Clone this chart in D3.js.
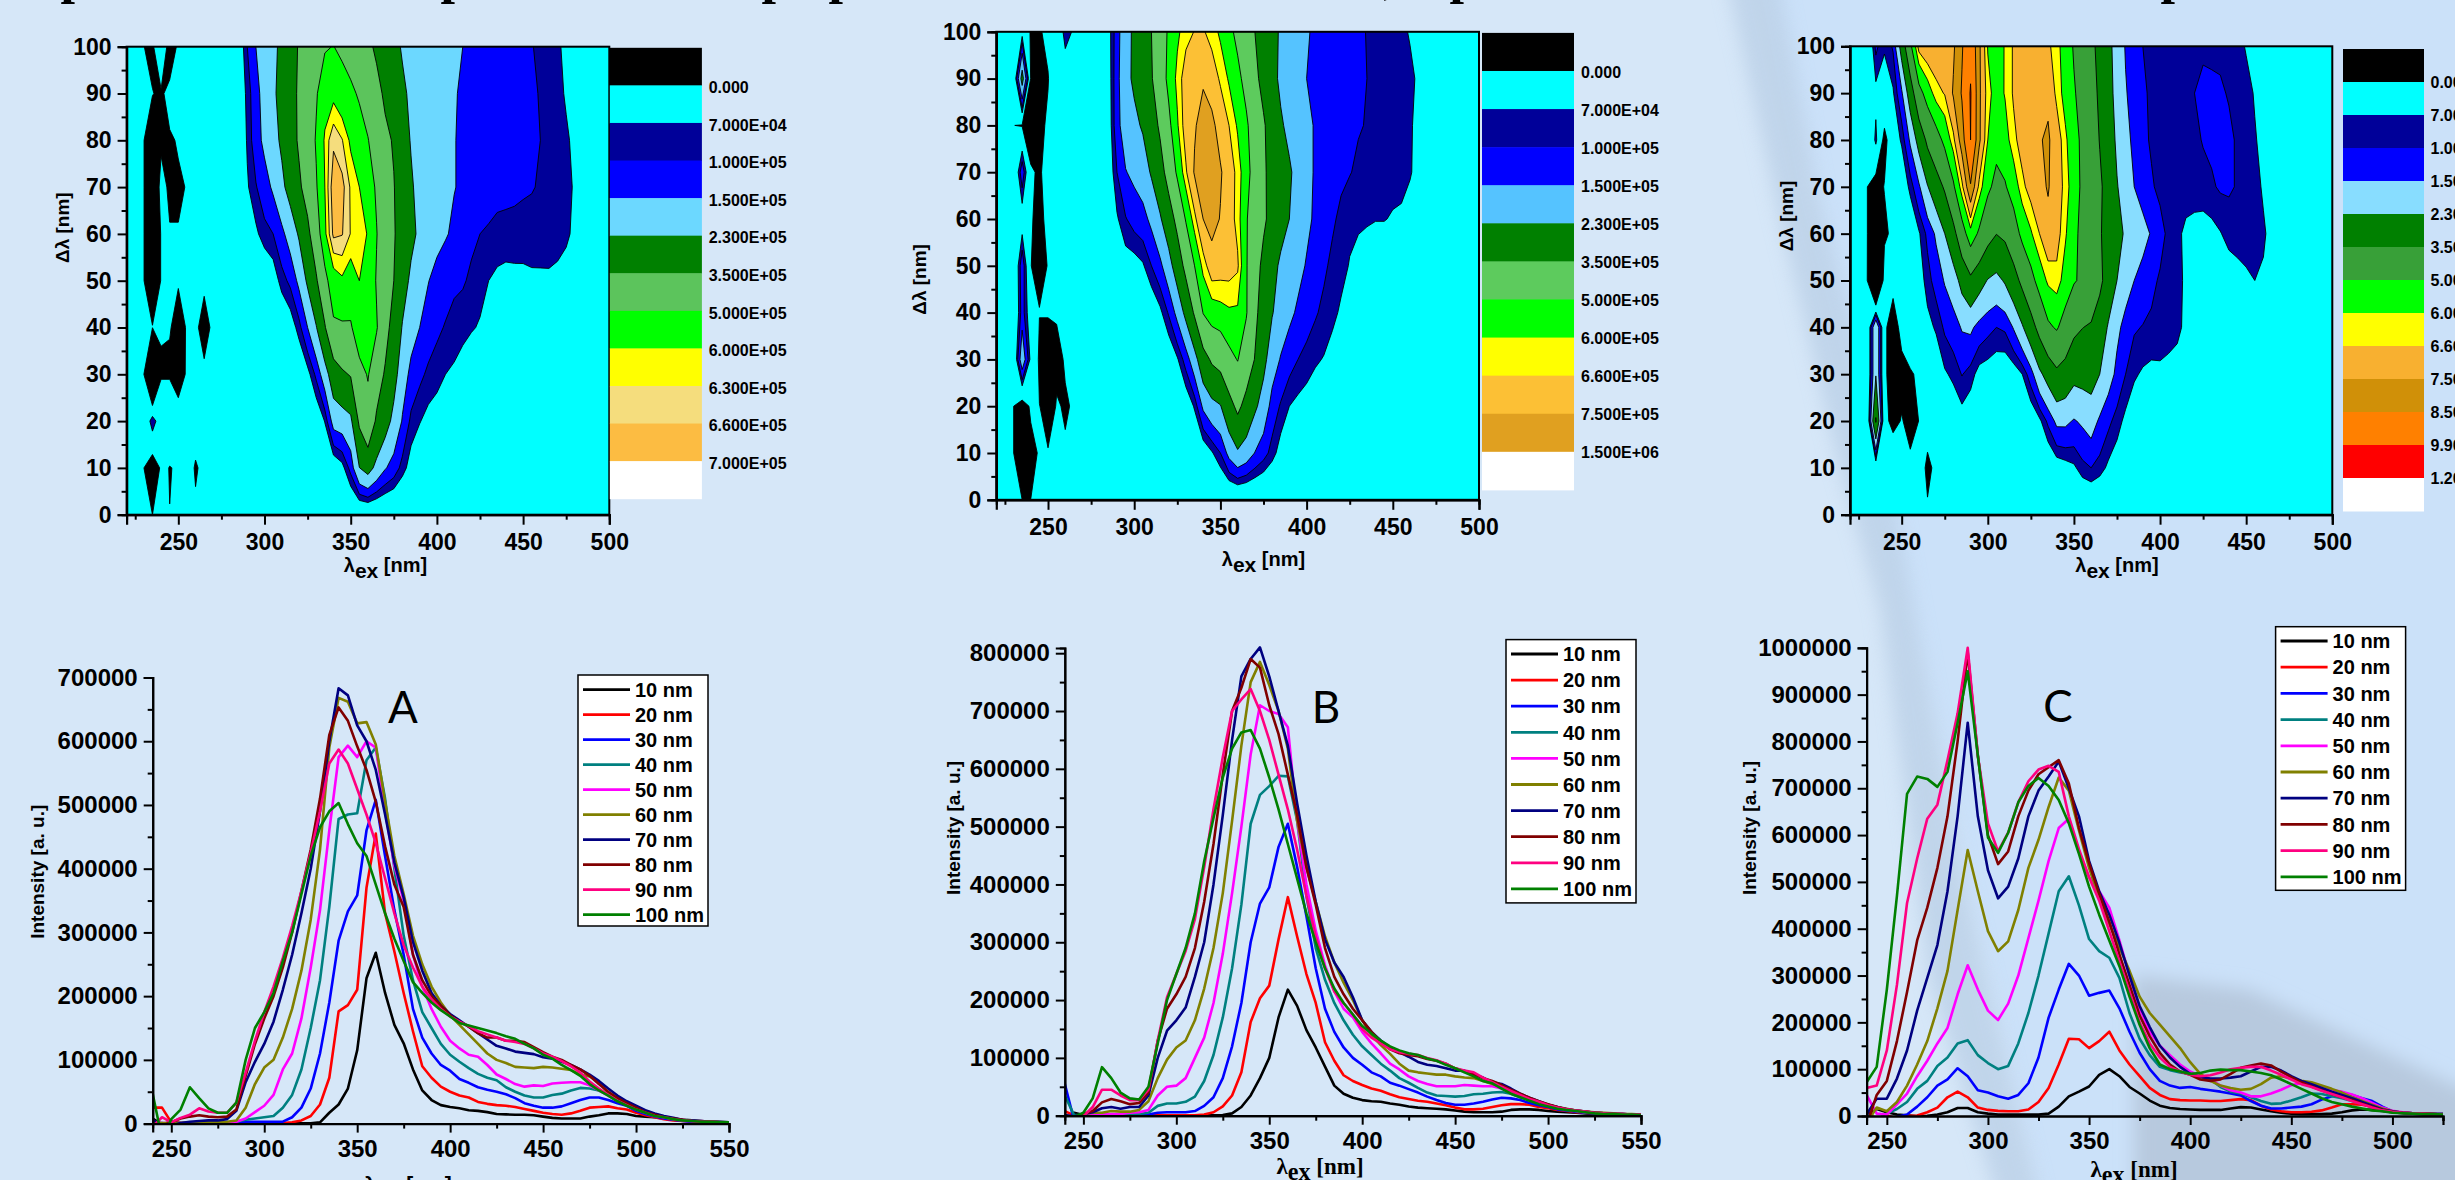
<!DOCTYPE html>
<html><head><meta charset="utf-8">
<script src="https://cdn.jsdelivr.net/npm/d3@7"></script>
<style>
html,body{margin:0;padding:0;background:#d6e7f8;overflow:hidden}
svg{display:block}
text{font-family:"Liberation Sans",Arial,sans-serif;font-weight:bold;fill:#000}
</style></head><body>
<svg id="c" width="2455" height="1180"></svg>
<script>
// ---------- shared ----------
const wavelengths = d3.range(240, 555, 5);
const extraColumns = [220, 225, 230, 235];
const offsets = [10, 20, 30, 40, 50, 60, 70, 80, 90, 100];
const seriesNames = ["10 nm","20 nm","30 nm","40 nm","50 nm","60 nm","70 nm","80 nm","90 nm","100 nm"];
const seriesColors = ["#000000","#ff0000","#0000ff","#008080","#ff00ff","#808000","#000080","#800000","#ff0080","#008000"];

// ---------- sample A (thousands) ----------
const A10=[8,-1,3,1,-.2,.5,.3,.3,.3,.3,.3,.3,.3,.3,.3,.3,.3,.5,2,17,30,55,115,228,268,205,155,126,85,52,37,29,26,24,21,20,18,15,14.5,14,14,13,11,9,8,8,8,11,13,16,16,15,12,11,10,8,6,5,4,3,3,2,2];
const A20=[25,25,2,1,1,1,.5,.5,.5,.5,.5,.5,.5,.5,1,2,5,12,30,72,176,186,210,370,455,330,270,205,145,90,72,58,50,44,41,34,31,29,28,26,23,20,17,15,14,16,20,25,26,27,24,22,17,13,10,7,5,4,3,2,2,1,1];
const A30=[-3,-3,-2,.5,1,1,1,1,1,2,3,3,3,3,3,10,25,55,110,190,287,333,358,460,508,420,335,265,180,135,110,92,83,70,64,57,53,50,46,40,32,28,25,25,27,32,37,41,41,37,32,28,20,15,11,8,6,4,3,2,2,1,1];
const A40=[2,1,-5,1,1,-2,1,1,1,3,6,8,10,12,25,45,85,150,225,340,478,485,487,570,590,510,400,295,225,175,150,125,108,97,87,78,72,68,57,50,44,41,41,45,47,52,56,55,52,46,38,30,22,17,13,10,7,5,4,3,2,2,2];
const A50=[1,1,1,1,1,1,1,1,1,3,8,18,28,45,85,110,165,245,335,460,575,593,575,600,590,490,405,350,265,215,180,152,130,118,108,105,92,77,70,62,58,60,59,63,64,65,65,60,52,44,36,30,24,18,14,10,8,6,4,4,3,2,2];
const A60=[1,1,1,1,2,2,2,2,3,5,25,62,88,100,135,180,240,320,430,590,668,662,628,630,595,505,420,360,295,250,215,190,170,155,140,125,110,100,95,89,88,87,89,88,86,84,77,74,65,48,40,33,26,20,15,11,8,6,5,4,3,3,2];
const A70=[6,-3,-3,1,3,4,5,5,7,20,65,97,125,160,210,265,330,400,490,600,683,672,625,600,555,485,410,355,285,240,205,185,172,162,152,142,132,122,118,113,111,109,104,102,97,92,85,77,67,55,44,35,28,21,16,12,9,6,5,4,3,3,2];
const A80=[-3,-3,2,8,11,13,11,10,11,22,75,125,165,200,245,300,365,430,510,610,653,632,592,555,505,435,375,340,265,225,200,185,170,160,152,142,135,135,130,130,128,120,112,105,100,92,85,75,62,50,40,32,25,18,14,10,8,6,4,3,3,2,2];
const A90=[-5,10,2,9,14,24,19,17,17,33,80,130,175,215,260,310,365,425,490,565,587,565,525,485,440,385,330,280,245,215,195,180,168,160,153,145,140,135,130,128,125,118,110,105,98,90,80,66,55,45,36,29,22,17,12,10,7,5,4,3,3,2,2];
const A100=[47,-24,7,22,57,40,24,17,17,33,100,150,175,205,255,300,360,420,465,490,503,470,440,420,375,330,290,255,222,205,190,178,168,158,154,150,146,142,137,133,125,118,108,102,92,84,75,62,52,44,35,28,22,17,12,10,7,5,4,3,3,2,2];
const A220=[0,1,1,1,1,1,1,1,1,1,1];
const A225=[0,1,1,1,1,1,1,1,1,1,1];
const A230=[0,.5,.5,.5,.5,.5,.5,.5,.5,.5,.5];
const A235=[0,-40,100,-200,1,-20,-20,-20,-20,1,-8];
const levelsA=[0,70,100,150,230,350,500,600,630,660,700];
const levelLabelsA=["0.000","7.000E+04","1.000E+05","1.500E+05","2.300E+05","3.500E+05","5.000E+05","6.000E+05","6.300E+05","6.600E+05","7.000E+05"];
const swatchesA=["#000000","#00ffff","#000099","#0000ff","#6cd8ff","#008000","#5cc45c","#00ff00","#ffff00","#f5dd7d","#fcbc42","#ffffff"];

// ---------- sample B (thousands) ----------
const B10=[-15,5,1,1,1,1,.3,.3,.3,.3,.3,.3,.3,.3,.3,.5,.5,1,4,15,35,65,100,170,218,190,148,118,85,52,38,31,27,25,24,21,19,16,14,13,12,11,9,7,6,6,6,7,10,11,11,10,8,7,6,5,4,3,3,3,2,2,2];
const B20=[8,.5,-8,1,-1,1,.5,.5,.5,.5,.5,.5,.5,.5,.5,2,6,16,35,75,162,203,225,305,378,310,245,195,127,95,70,60,53,47,43,37,32,29,26,24,21,18,14,11,11,12,15,18,20,20,19,15,13,10,8,6,5,4,3,3,2,2,1];
const B30=[55,-8,-8,-3,1,1,1,1,1,2,5,6,6,6,8,17,32,65,120,195,300,367,395,465,505,430,345,255,185,145,118,100,88,75,68,57,52,46,40,33,27,22,19,19,21,24,28,31,30,27,22,18,15,11,9,7,5,4,3,3,2,2,1];
const B40=[35,1,1,1,1,1,1,2,3,5,17,21,21,24,33,60,105,170,255,365,505,555,570,588,587,510,380,290,235,195,165,140,120,105,90,78,65,57,48,40,35,34,33,34,37,38,40,41,38,32,27,22,17,13,10,8,6,5,3,3,3,2,2];
const B50=[.5,-8,1,1,2,3,3,5,6,10,35,50,52,65,100,135,195,280,385,500,625,710,700,695,672,510,400,320,260,215,185,170,145,125,108,90,80,68,60,55,51,51,51,53,52,51,51,47,40,35,28,23,18,14,11,8,6,5,4,3,3,2,2];
const B60=[1,-3,3,5,5,8,7,7,10,25,65,97,118,130,165,220,290,385,510,640,750,785,745,700,635,510,430,370,310,265,230,200,165,140,122,107,90,78,75,73,71,71,68,66,65,60,55,50,43,36,30,24,19,15,12,9,7,6,5,4,3,3,2];
const B70=[1,-1,3,6,13,15,12,15,15,35,100,147,165,187,240,300,400,520,650,760,790,810,760,700,640,540,450,370,305,265,240,205,165,145,130,118,110,102,93,88,86,82,78,78,71,66,58,55,47,38,31,25,19,15,11,9,7,5,4,3,3,2,2];
const B80=[-5,-5,3,8,23,29,25,20,22,40,130,185,210,240,290,370,470,590,700,740,790,775,710,660,590,520,430,365,290,240,210,185,165,145,128,115,108,105,103,98,95,90,82,77,72,65,60,53,45,38,31,25,20,15,11,9,7,5,4,3,3,2,2];
const B90=[-5,-1,-1,15,45,45,35,27,27,45,130,205,245,285,340,430,530,620,700,720,738,700,650,590,530,460,380,310,255,215,195,175,150,135,125,115,110,107,105,100,96,90,82,78,75,66,58,50,43,36,29,24,18,14,11,9,7,5,4,3,3,2,2];
const B100=[-5,-2,5,30,84,65,40,30,28,50,125,200,245,290,350,440,515,585,635,663,667,635,585,530,470,410,350,300,255,220,195,175,155,142,130,120,113,108,105,99,95,88,82,75,68,60,56,47,38,32,26,20,16,12,10,8,6,4,3,3,2,2,1];
const B220=[0,1,1,1,1,1,1,1,1,1,1];
const B225=[0,1,1,1,1,1,1,1,1,1,1];
const B230=[0,.5,.5,.5,.5,.5,.5,.5,.5,.5,.5];
const B235=[0,-30,-30,200,120,130,40,130,-3,270,48];
const levelsB=[0,70,100,150,230,350,500,600,660,750,1500];
const levelLabelsB=["0.000","7.000E+04","1.000E+05","1.500E+05","2.300E+05","3.500E+05","5.000E+05","6.000E+05","6.600E+05","7.500E+05","1.500E+06"];
const swatchesB=["#000000","#00ffff","#000099","#0000ff","#55c3ff","#008000","#5dcb5d","#00ff00","#ffff00","#fcc035","#e0a020","#ffffff"];

// ---------- sample C (thousands), 240-525 nm ----------
const wavelengthsC = d3.range(240, 530, 5);
const C10=[1,15,8,3.3,1.3,-.5,.5,3,8,17,17,8,5,3,3,3,3,3,5,20,42,52,63,88,100,85,62,48,33,22,17,15,14,13,13,13,16,19,18,14,10,7,5,4,4,4,5,8,12,14,13,11,8,6,5,4,4,3];
const C20=[5,-5,1,-5,.2,1,8,18,40,52,40,18,13,11,10,10,14,30,60,110,165,164,145,160,180,140,110,85,60,45,36,34,33,33,32,32,34,36,34,22,14,10,8,8,9,12,18,25,25,24,20,14,9,7,6,5,4,3];
const C30=[3,-8,-5,-2,3,20,40,65,78,102,85,55,50,42,37,45,70,125,210,270,325,300,257,263,268,230,180,135,100,75,65,60,62,58,55,52,48,44,32,22,16,16,18,20,25,35,42,46,45,38,32,20,10,7,6,5,4,4];
const C40=[3,-8,5,15,30,58,75,107,125,155,162,130,113,100,107,155,220,300,390,480,512,450,378,352,338,295,220,165,130,105,98,93,90,85,78,62,52,48,40,32,26,27,33,40,48,47,42,38,32,26,22,14,10,7,6,5,4,4];
const C50=[45,5,3,25,48,85,118,155,188,260,322,270,225,205,240,300,380,460,545,615,635,565,510,480,445,375,300,230,180,150,130,110,95,85,78,65,55,50,42,42,48,56,66,70,68,60,55,52,46,38,28,18,11,8,6,5,4,4];
const C60=[-15,18,10,30,65,110,160,230,310,440,568,480,395,352,373,440,530,590,660,723,695,610,530,465,410,360,310,255,220,195,170,145,115,90,75,65,60,56,58,68,82,85,80,75,72,65,58,50,40,32,24,16,10,7,6,5,4,4];
const C70=[3,37,37,80,140,225,295,365,480,640,840,640,525,465,490,550,640,695,725,757,700,640,545,480,430,370,300,235,190,150,125,105,90,83,80,80,82,85,95,105,105,97,85,75,68,60,52,45,38,30,22,14,10,7,6,5,4,4];
const C80=[-20,45,75,160,265,375,445,530,640,800,990,770,600,538,565,640,695,730,745,760,710,615,540,475,415,345,280,215,170,135,110,95,88,78,75,78,90,103,108,112,108,95,83,72,63,55,47,40,34,26,19,13,9,7,6,5,4,3];
const C90=[60,65,140,280,455,550,635,665,760,860,1000,770,625,565,605,670,715,740,748,735,640,570,510,460,395,330,265,200,155,125,105,95,88,85,87,93,100,103,105,105,97,88,78,68,62,54,47,40,32,25,18,12,9,7,6,5,4,3];
const C100=[72,105,270,470,688,725,720,703,735,840,950,770,595,562,605,670,705,722,705,675,625,560,490,430,375,320,255,195,145,110,100,95,90,92,97,99,98,98,95,92,87,78,68,58,48,38,30,25,20,16,12,10,7,6,5,4,4,3];
const C220=[0,1,1,1,1,1,1,1,1,1,1];
const C225=[0,1,1,1,1,1,1,1,1,1,1];
const C230=[0,.5,.5,.5,.5,.5,.5,.5,.5,.5,.5];
const C235=[0,20,360,225,225,-250,-30,-30,80,57,110];
const levelsC=[0,70,100,150,230,350,500,600,660,750,850,990,1200];
const levelLabelsC=["0.000","7.000E+04","1.000E+05","1.500E+05","2.300E+05","3.500E+05","5.000E+05","6.000E+05","6.600E+05","7.500E+05","8.500E+05","9.900E+05","1.200E+06"];
const swatchesC=["#000000","#00ffff","#000099","#0000ff","#88ddff","#008000","#38a038","#00ff00","#ffff00","#f8b030","#d09008","#ff8000","#ff0000","#ffffff"];

const titleFragments=[["p",75],["p",455],["p",776],["p",843],[",",1390],["p",1464],["p",2175]];

// ---------- layout ----------
const panels=[
 {series:[A10,A20,A30,A40,A50,A60,A70,A80,A90,A100],wl:wavelengths,extra:[A220,A225,A230,A235],levels:levelsA,labels:levelLabelsA,swatches:swatchesA,letter:"A",
  map:{x0:126.6,x1:609.3,y0:514.7,y1:46.7,tickDy:9,titleX:385.5,titleY:572,dlX:62.8,dlY:227.7,
       lx0:609.8,lx1:701.9,ly0:47.8,ly1:498.7,labX:708.7,labY0:87.3,labStep:37.6},
  line:{x0:152.7,x1:729,y0:1123.6,y1:677.5,yMax:700,xMax:550,yTop:700,pad:7,titleX:408,titleY:1191,serif:false,intX:37.7,intY:871.8,
        bx0:578,bx1:708,by0:675,by1:926,letterX:403,letterY:723,entry0:689.6,entryStep:25}},
 {series:[B10,B20,B30,B40,B50,B60,B70,B80,B90,B100],wl:wavelengths,extra:[B220,B225,B230,B235],levels:levelsB,labels:levelLabelsB,swatches:swatchesB,letter:"B",
  map:{x0:996.3,x1:1479,y0:499.8,y1:31.8,tickDy:9,titleX:1263.5,titleY:566,dlX:919.4,dlY:279.4,
       lx0:1482,lx1:1574,ly0:32.9,ly1:489.9,labX:1581,labY0:72,labStep:38},
  line:{x0:1064.8,x1:1641,y0:1115.7,y1:653.2,yMax:800,xMax:550,yTop:809,pad:7,titleX:1320,titleY:1174,serif:true,intX:953.4,intY:827.9,
        bx0:1506,bx1:1636,by0:639.6,by1:902.9,letterX:1326,letterY:723,entry0:654,entryStep:26.1}},
 {series:[C10,C20,C30,C40,C50,C60,C70,C80,C90,C100],wl:wavelengthsC,extra:[C220,C225,C230,C235],levels:levelsC,labels:levelLabelsC,swatches:swatchesC,letter:"C",
  map:{x0:1850,x1:2332.3,y0:514.7,y1:46.3,tickDy:9,titleX:2117,titleY:572,dlX:1786.6,dlY:216,
       lx0:2343,lx1:2424,ly0:49,ly1:511,labX:2430.5,labY0:82.7,labStep:33},
  line:{x0:1866.6,x1:2443,y0:1116,y1:647.8,yMax:1000,xMax:525,yTop:1000,pad:7,titleX:2134,titleY:1177,serif:true,intX:1749,intY:828,
        bx0:2275.6,bx1:2405.6,by0:626.7,by1:890.3,letterX:2058,letterY:722,entry0:641,entryStep:26.2}}
];

const svg=d3.select("#c");
const defs=svg.append("defs");
defs.append("filter").attr("id","soft").attr("x","-30%").attr("y","-30%").attr("width","160%").attr("height","160%")
  .append("feGaussianBlur").attr("stdDeviation",9);

// ---------- backdrop ----------
const bg=svg.append("g");
bg.append("rect").attr("width",2455).attr("height",1180).attr("fill","#d6e7f8");
bg.append("path").attr("d","M1760,-40L2500,-40L2500,1220L2040,1220Z").attr("fill","#cbe1f9").attr("filter","url(#soft)");
bg.append("path").attr("d","M1722,-40L1775,-40L1820,200L1880,420L1915,610L1960,860L2045,1220L2004,1220L1930,980L1880,610L1840,470L1780,220Z")
  .attr("fill","#b9cfe6").attr("opacity",.75).attr("filter","url(#soft)");
bg.append("path").attr("d","M2134,975L2250,990L2455,1085L2500,1100L2500,1220L2134,1220Z").attr("fill","#b7c9de").attr("filter","url(#soft)");

svg.selectAll(".frag").data(titleFragments).join("text").attr("class","frag")
  .attr("x",d=>d[1]).attr("y",-7.5).attr("text-anchor","middle")
  .style("font-family",'"Liberation Serif",serif').style("font-size","52px").text(d=>d[0]);

// ---------- helpers ----------
function checkLen(p){p.series.forEach((s,i)=>{if(s.length!==p.wl.length)throw new Error(p.letter+" series "+i+" has "+s.length+" expected "+p.wl.length);});}
function styleAxis(g,size){g.selectAll("path,line").attr("stroke","#000").attr("stroke-width",2);g.selectAll("text").style("font-size",size+"px");g.select(".domain").attr("stroke-width",2.2);}
function minorAxis(g){g.selectAll("path,line").attr("stroke","#000").attr("stroke-width",2);g.selectAll("text").remove();}
function lambdaTitle(g,x,y,size,serif){
  const t=g.append("text").attr("x",x).attr("y",y).attr("text-anchor","middle").style("font-size",size+"px");
  if(serif)t.style("font-family",'"Liberation Serif",serif');
  t.append("tspan").text("λ");
  t.append("tspan").attr("dy",size*.28).style("font-size",size*1.05+"px").text("ex");
  t.append("tspan").attr("dy",-size*.28).text(" [nm]");
}

panels.forEach((p,pi)=>{
  checkLen(p);
  const m=p.map;
  const g=svg.append("g");
  // grid built from the same readings as the curves
  const nCols=extraColumns.length+d3.range(240,505,5).length;
  const values=new Float64Array(nCols*11);
  for(let j=0;j<11;j++){
    for(let i=0;i<extraColumns.length;i++) values[j*nCols+i]=p.extra[i][j];
    d3.range(240,505,5).forEach((w,k)=>{
      values[j*nCols+extraColumns.length+k]= j===0?.3:p.series[j-1][p.wl.indexOf(w)];
    });
  }
  const sx=d3.scaleLinear().domain([220,500]).range([m.x0,m.x1]);
  const sy=d3.scaleLinear().domain([0,100]).range([m.y0,m.y1]);
  const clipId="clip-map-"+pi;
  defs.append("clipPath").attr("id",clipId).append("rect")
    .attr("x",m.x0).attr("y",m.y1).attr("width",m.x1-m.x0).attr("height",m.y0-m.y1);
  const plot=g.append("g").attr("clip-path",`url(#${clipId})`);
  plot.append("rect").attr("x",m.x0).attr("y",m.y1).attr("width",m.x1-m.x0).attr("height",m.y0-m.y1).attr("fill",p.swatches[0]);
  const contours=d3.contours().size([nCols,11]).thresholds(p.levels)(values);
  const pathOf=mp=>mp.coordinates.map(poly=>poly.map(ring=>
      "M"+ring.map(c=>sx(220+5*(c[0]-.5))+","+sy(10*(c[1]-.5))).join("L")+"Z").join("")).join("");
  plot.selectAll("path").data(contours).join("path")
    .attr("d",pathOf).attr("fill",(d,i)=>p.swatches[i+1]).attr("fill-rule","evenodd")
    .attr("stroke","#000").attr("stroke-width",.9).attr("stroke-linejoin","round");
  // frame & axes
  g.append("rect").attr("x",m.x0).attr("y",m.y1).attr("width",m.x1-m.x0).attr("height",m.y0-m.y1).attr("fill","none").attr("stroke","#000").attr("stroke-width",2);
  const ax=g.append("g").attr("transform",`translate(0,${m.y0})`)
    .call(d3.axisBottom(sx).tickValues(d3.range(250,550,50)).tickFormat(d3.format("d")).tickSize(10).tickPadding(m.tickDy));
  styleAxis(ax,23);
  minorAxis(g.append("g").attr("transform",`translate(0,${m.y0})`)
    .call(d3.axisBottom(sx).tickValues(d3.range(225,525,50)).tickSize(5)));
  const ay=g.append("g").attr("transform",`translate(${m.x0},0)`)
    .call(d3.axisLeft(sy).tickValues(d3.range(0,110,10)).tickSize(9).tickPadding(6));
  styleAxis(ay,23);
  minorAxis(g.append("g").attr("transform",`translate(${m.x0},0)`)
    .call(d3.axisLeft(sy).tickValues(d3.range(5,105,10)).tickSize(5)));
  lambdaTitle(g,m.titleX,m.titleY,20,false);
  g.append("text").attr("transform",`translate(${m.dlX+6.5},${m.dlY}) rotate(-90)`).attr("text-anchor","middle").style("font-size","19px").text("Δλ [nm]");
  // colour key
  const h=(m.ly1-m.ly0)/p.swatches.length;
  g.selectAll(".sw").data(p.swatches).join("rect").attr("class","sw")
    .attr("x",m.lx0).attr("width",m.lx1-m.lx0).attr("y",(d,i)=>m.ly0+i*h).attr("height",h+.5).attr("fill",d=>d);
  g.selectAll(".lab").data(p.labels).join("text").attr("class","lab")
    .attr("x",m.labX).attr("y",(d,i)=>m.labY0+i*m.labStep).attr("dy",".36em").style("font-size","16px").text(d=>d);

  // ---------- curves ----------
  const l=p.line;
  const gx=d3.scaleLinear().domain([240,l.xMax]).range([l.x0,l.x1]);
  const gy=d3.scaleLinear().domain([0,l.yMax]).range([l.y0,l.y1]);
  const lineClip="clip-line-"+pi;
  defs.append("clipPath").attr("id",lineClip).append("rect")
    .attr("x",l.x0).attr("y",l.y1-30).attr("width",l.x1-l.x0).attr("height",l.y0-l.y1+30);
  const lg=svg.append("g");
  const curves=lg.append("g").attr("clip-path",`url(#${lineClip})`);
  const lineGen=d3.line().x((d,i)=>gx(p.wl[i])).y(d=>gy(d));
  curves.selectAll("path").data(p.series).join("path")
    .attr("d",lineGen).attr("fill","none").attr("stroke",(d,i)=>seriesColors[i]).attr("stroke-width",2.6).attr("stroke-linejoin","round");
  const yAxisScale=gy.copy().domain([0,l.yTop]).range([l.y0,gy(l.yTop)]);
  const bx=lg.append("g").attr("transform",`translate(0,${l.y0})`)
    .call(d3.axisBottom(gx).tickValues(d3.range(250,l.xMax+1,50)).tickFormat(d3.format("d")).tickSize(9).tickPadding(l.pad));
  styleAxis(bx,24);
  minorAxis(lg.append("g").attr("transform",`translate(0,${l.y0})`)
    .call(d3.axisBottom(gx).tickValues(d3.range(275,l.xMax+1,50)).tickSize(5)));
  const by=lg.append("g").attr("transform",`translate(${l.x0},0)`)
    .call(d3.axisLeft(yAxisScale).tickValues(d3.range(0,l.yMax+1,100)).tickFormat(d=>d3.format("d")(d*1000)).tickSize(9).tickPadding(6));
  styleAxis(by,24);
  minorAxis(lg.append("g").attr("transform",`translate(${l.x0},0)`)
    .call(d3.axisLeft(yAxisScale).tickValues(d3.range(50,l.yMax,100)).tickSize(5)));
  lambdaTitle(lg,l.titleX,l.titleY,l.serif?23:21,l.serif);
  lg.append("text").attr("transform",`translate(${l.intX+6.5},${l.intY}) rotate(-90)`).attr("text-anchor","middle").style("font-size","19px").text("Intensity [a. u.]");
  lg.append("text").attr("x",l.letterX).attr("y",l.letterY).attr("text-anchor","middle").style("font-family","Lato,sans-serif").style("font-weight","400").style("font-size","44px").text(p.letter);
  // legend
  lg.append("rect").attr("x",l.bx0).attr("y",l.by0).attr("width",l.bx1-l.bx0).attr("height",l.by1-l.by0).attr("fill","#fff").attr("stroke","#000").attr("stroke-width",1.5);
  const ent=lg.selectAll(".ent").data(seriesNames).join("g").attr("class","ent").attr("transform",(d,i)=>`translate(${l.bx0},${l.entry0+i*l.entryStep})`);
  ent.append("line").attr("x1",5).attr("x2",52).attr("stroke",(d,i)=>seriesColors[i]).attr("stroke-width",2.8);
  ent.append("text").attr("x",57).attr("dy",".36em").style("font-size","20px").text(d=>d);
});
</script>
</body></html>
